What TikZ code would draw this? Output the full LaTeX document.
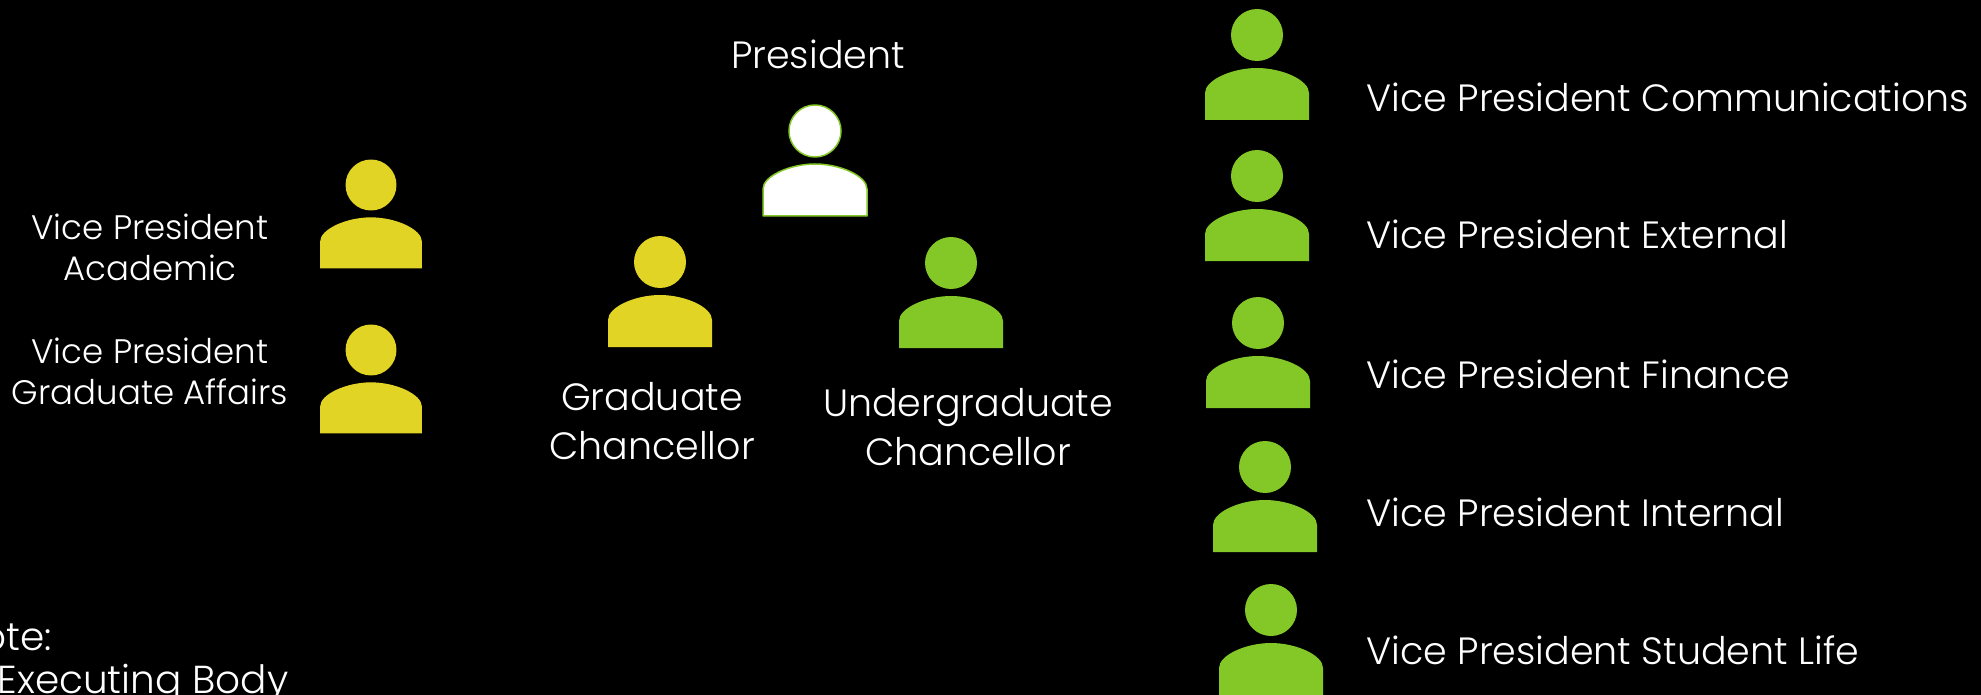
\documentclass[tikz,border=0pt]{standalone}
\usepackage{fontspec}
\setmainfont{Poppins Light}
\definecolor{chgreen}{RGB}{132,200,40}
\definecolor{chyellow}{RGB}{226,212,36}
\tikzset{
	person/.pic={
		\path[pic actions] (0,0) circle(26);
		\path[pic actions] (-52,85)--(-52,58) .. controls (-52,45) and (-25,33) .. (0,33)
		.. controls (25,33) and (52,45) .. (52,58)--(52,85)--cycle;
	},
	big/.style={font=\fontsize{38}{49}\selectfont,text=white,align=center},
	small/.style={font=\fontsize{34}{41}\selectfont,text=white,align=center},
	notetext/.style={font=\fontsize{39}{49}\selectfont,text=white,anchor=west}
}
\begin{document}
\begin{tikzpicture}[x=1pt,y=-1pt,line join=round]
	\useasboundingbox (0,0) rectangle (1981,695);
	\fill[black] (0,0) rectangle (1981,695);
	\clip (0,0) rectangle (1981,695);
	% people
	\pic[fill=white,draw=chgreen,line width=1.5pt] at (815,131) {person};
	\pic[fill=chyellow] at (660,262) {person};
	\pic[fill=chgreen] at (951,263) {person};
	\pic[fill=chyellow,xscale=.98,yscale=.98] at (371,185) {person};
	\pic[fill=chyellow,xscale=.98,yscale=.98] at (371,350) {person};
	\pic[fill=chgreen] at (1257,35) {person};
	\pic[fill=chgreen] at (1257,176) {person};
	\pic[fill=chgreen] at (1258,323) {person};
	\pic[fill=chgreen] at (1265,467) {person};
	\pic[fill=chgreen] at (1271,610) {person};
	% labels
	\node[big] (president) at (818,54) {President};
	\node[big] (gradchan) at (652,421) {Graduate\\Chancellor};
	\node[big] (undergradchan) at (968,427) {Undergraduate\\Chancellor};
	\node[small] (vpacademic) at (150,247) {Vice President\\Academic};
	\node[small] (vpgraduate) at (150,371) {Vice President\\Graduate Affairs};
	\node[big,anchor=west] (vpcomm) at (1363,97) {Vice President Communications};
	\node[big,anchor=west] (vpext) at (1363,234) {Vice President External};
	\node[big,anchor=west] (vpfin) at (1363,374) {Vice President Finance};
	\node[big,anchor=west] (vpint) at (1363,512) {Vice President Internal};
	\node[big,anchor=west] (vplife) at (1363,650) {Vice President Student Life};
	\node[notetext] (note) at (-49,637) {Note:};
	\node[notetext] (body) at (-6,684) {Executing Body};
\end{tikzpicture}
\end{document}
